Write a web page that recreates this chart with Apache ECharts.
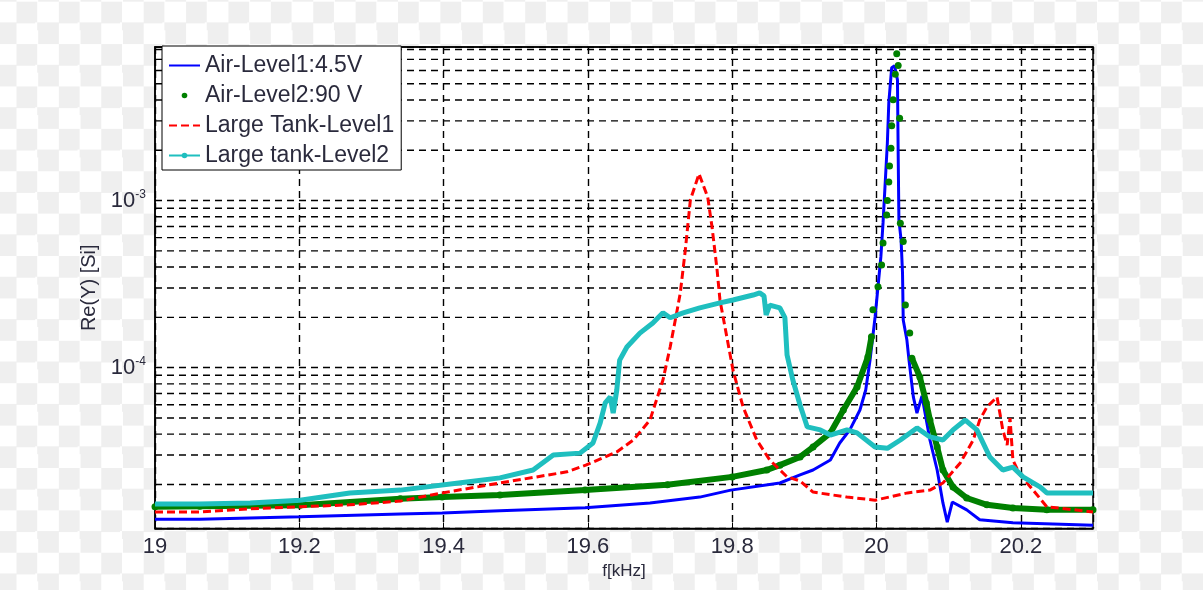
<!DOCTYPE html>
<html><head><meta charset="utf-8">
<script src="https://cdn.jsdelivr.net/npm/echarts@6/dist/echarts.min.js"></script>
<style>
html,body{margin:0;padding:0;}
body{width:1203px;height:590px;background:repeating-conic-gradient(#fff 0 25%, #efefef 0 50%) 16.5px 1.7px / 42.4px 42.4px;}
#c{width:1203px;height:590px;}
</style></head><body><div id="c"></div>
<script>
// ---- data (f in kHz, Re(Y) in S) ----
const xTicks = [19, 19.2, 19.4, 19.6, 19.8, 20, 20.2];
const yTickExps = [-4, -3];

const blueF = [19.000,19.062,19.201,19.340,19.398,19.478,19.596,19.686,19.755,19.798,19.866,19.894,19.912,19.936,19.949,19.963,19.977,19.985,19.991,19.998,20.006,20.009,20.015,20.017,20.021,20.025,20.029,20.030,20.031,20.034,20.036,20.037,20.042,20.045,20.051,20.056,20.063,20.074,20.084,20.092,20.098,20.105,20.125,20.143,20.189,20.300];
const blueV = [1.24e-5,1.24e-5,1.28e-5,1.33e-5,1.35e-5,1.39e-5,1.45e-5,1.55e-5,1.68e-5,1.85e-5,2.04e-5,2.28e-5,2.44e-5,2.80e-5,3.54e-5,4.24e-5,5.58e-5,7.35e-5,1.11e-4,2.01e-4,4.60e-4,7.35e-4,2.21e-3,3.85e-3,6.24e-3,6.41e-3,5.28e-3,1.88e-3,7.66e-4,5.82e-4,3.69e-4,1.93e-4,1.47e-4,1.11e-4,6.68e-5,5.35e-5,6.77e-5,3.69e-5,2.44e-5,1.55e-5,1.19e-5,1.57e-5,1.41e-5,1.23e-5,1.18e-5,1.14e-5];

const greenLowF = [19.000,19.062,19.201,19.340,19.398,19.478,19.596,19.710,19.800,19.848,19.866,19.894,19.912,19.936,19.954,19.973,19.988,19.993];
const greenLowV = [1.47e-5,1.48e-5,1.50e-5,1.64e-5,1.68e-5,1.73e-5,1.85e-5,1.99e-5,2.22e-5,2.44e-5,2.61e-5,2.92e-5,3.35e-5,4.07e-5,5.58e-5,7.66e-5,1.16e-4,1.53e-4];
const greenDotF = [19.995,20.002,20.007,20.009,20.014,20.015,20.017,20.018,20.020,20.021,20.023,20.026,20.028,20.030,20.032,20.033,20.037,20.040,20.046];
const greenDotV = [2.22e-4,3.05e-4,4.12e-4,5.58e-4,8.21e-4,1.0e-3,1.29e-3,1.61e-3,2.06e-3,2.80e-3,4.01e-3,5.71e-3,7.56e-3,6.43e-3,3.11e-3,7.32e-4,5.68e-4,2.37e-4,1.61e-4];
const greenHighF = [20.049,20.060,20.069,20.074,20.084,20.092,20.106,20.125,20.153,20.189,20.236,20.300];
const greenHighV = [1.14e-4,8.80e-5,6.15e-5,4.86e-5,3.35e-5,2.44e-5,1.93e-5,1.66e-5,1.51e-5,1.445e-5,1.41e-5,1.41e-5];

const redF = [19.000,19.062,19.132,19.201,19.270,19.340,19.398,19.478,19.571,19.597,19.640,19.663,19.686,19.704,19.714,19.723,19.728,19.735,19.742,19.754,19.766,19.772,19.779,19.783,19.801,19.815,19.834,19.852,19.876,19.894,19.912,19.959,19.998,20.043,20.074,20.092,20.116,20.134,20.143,20.153,20.167,20.175,20.181,20.185,20.189,20.199,20.217,20.236,20.300];
const redV = [1.37e-5,1.37e-5,1.43e-5,1.47e-5,1.51e-5,1.59e-5,1.78e-5,2.04e-5,2.38e-5,2.61e-5,3.13e-5,3.69e-5,4.86e-5,8.44e-5,1.33e-4,2.13e-4,2.80e-4,5.07e-4,1.01e-3,1.445e-3,1.05e-3,6.95e-4,3.85e-4,2.54e-4,9.69e-5,5.82e-5,3.69e-5,2.80e-5,2.22e-5,2.10e-5,1.80e-5,1.68e-5,1.61e-5,1.78e-5,1.85e-5,2.04e-5,2.69e-5,3.69e-5,4.86e-5,5.82e-5,6.68e-5,4.24e-5,3.44e-5,4.99e-5,2.80e-5,2.28e-5,1.85e-5,1.47e-5,1.37e-5];

const cyanF = [19.000,19.062,19.132,19.201,19.270,19.340,19.432,19.478,19.524,19.552,19.589,19.607,19.617,19.624,19.631,19.635,19.640,19.644,19.654,19.672,19.690,19.704,19.714,19.732,19.755,19.783,19.801,19.829,19.838,19.844,19.847,19.852,19.866,19.873,19.876,19.884,19.894,19.904,19.922,19.936,19.959,19.973,19.998,20.015,20.033,20.056,20.074,20.092,20.106,20.123,20.139,20.157,20.175,20.189,20.203,20.227,20.236,20.300];
const cyanV = [1.53e-5,1.53e-5,1.55e-5,1.61e-5,1.78e-5,1.85e-5,2.07e-5,2.19e-5,2.44e-5,3.00e-5,3.08e-5,3.54e-5,4.67e-5,6.15e-5,6.68e-5,5.35e-5,7.35e-5,1.11e-4,1.33e-4,1.61e-4,1.85e-4,2.13e-4,1.99e-4,2.13e-4,2.28e-4,2.44e-4,2.54e-4,2.72e-4,2.80e-4,2.69e-4,2.07e-4,2.37e-4,2.28e-4,1.99e-4,1.19e-4,8.44e-5,5.98e-5,4.42e-5,4.24e-5,3.95e-5,4.24e-5,4.07e-5,3.35e-5,3.29e-5,3.69e-5,4.36e-5,3.85e-5,3.69e-5,4.24e-5,4.86e-5,4.24e-5,2.92e-5,2.44e-5,2.54e-5,2.22e-5,1.93e-5,1.78e-5,1.78e-5];

const minorGrid = [2e-5,3e-5,4e-5,5e-5,6e-5,7e-5,8e-5,9e-5,2e-4,3e-4,4e-4,5e-4,6e-4,7e-4,8e-4,9e-4,2e-3,3e-3,4e-3,5e-3,6e-3,7e-3,8e-3];
const xRange = [19, 20.3];
const names = ['Air-Level1:4.5V','Air-Level2:90 V','Large Tank-Level1','Large tank-Level2'];

// ---- build ----
const pairs = (F,V) => F.map((f,i)=>[f,V[i]]);
const greenData = pairs(greenLowF, greenLowV);
greenDotF.forEach((f,i)=>{ greenData.push([f,'-']); greenData.push([f, greenDotV[i]]); });
greenData.push([greenHighF[0],'-']);
pairs(greenHighF, greenHighV).forEach(p=>greenData.push(p));

const FONT = '"Liberation Sans", Arial, sans-serif';
const TXT = '#2a2a3c';
const dash = [7,5];

const gridSeries = minorGrid.map(v=>({
  name:'_g'+v, type:'line', silent:true, z:1, symbol:'none', showSymbol:false,
  data:[[xRange[0],v],[xRange[1],v]],
  lineStyle:{color:'#000',type:dash,width:1.4}, emphasis:{disabled:true}, tooltip:{show:false}
}));

const chart = echarts.init(document.getElementById('c'));
chart.setOption({
  animation:false,
  backgroundColor:'transparent',
  textStyle:{fontFamily:FONT},
  grid:{left:155,right:110,top:47,bottom:61.5,show:true,backgroundColor:'#fff',borderColor:'#000',borderWidth:1.5},
  legend:{
    left:162, top:46, orient:'vertical', z:20,
    backgroundColor:'#fff', borderColor:'#000', borderWidth:1,
    padding:[8,7,3,6], itemGap:7, itemWidth:31, itemHeight:7,
    textStyle:{fontSize:23,color:TXT,lineHeight:22,fontFamily:FONT},
    data:[
      {name:names[0], itemStyle:{opacity:0}},
      {name:names[1], lineStyle:{opacity:0}},
      {name:names[2], itemStyle:{opacity:0}},
      {name:names[3]}
    ]
  },
  xAxis:[{
    type:'value', min:xRange[0], max:xRange[1], interval:0.2,
    name:'f[kHz]', nameLocation:'middle', nameGap:33,
    nameTextStyle:{fontSize:17,color:TXT},
    axisLine:{lineStyle:{color:'#000',width:1.5}},
    axisTick:{inside:true,length:6,lineStyle:{color:'#000'}},
    axisLabel:{fontSize:22,color:TXT,margin:7,showMaxLabel:false,
      formatter:v=> xTicks.some(t=>Math.abs(t-v)<1e-6) ? String(+v.toFixed(1)) : ''},
    splitLine:{show:true,lineStyle:{color:'#000',type:dash,width:1.4}}
  },{
    type:'value', position:'top', min:xRange[0], max:xRange[1], interval:0.2,
    axisLine:{lineStyle:{color:'#000',width:1.5}},
    axisTick:{inside:true,length:6,lineStyle:{color:'#000'}},
    axisLabel:{show:false}, splitLine:{show:false}
  }],
  yAxis:{
    type:'log', logBase:10, min:1.09e-5, max:8.3e-3,
    name:'Re(Y) [Si]', nameLocation:'middle', nameGap:50,
    nameTextStyle:{fontSize:20,color:TXT},
    axisLine:{show:true,lineStyle:{color:'#000',width:1.5}},
    axisTick:{inside:true,length:6,lineStyle:{color:'#000'}},
    axisLabel:{showMinLabel:false,showMaxLabel:false,margin:9,color:TXT,
      formatter:v=>{const e=Math.log10(v);const r=Math.round(e);
        return (Math.abs(e-r)<1e-6 && yTickExps.includes(r)) ? '{b|10}{s|'+r+'}' : '';},
      rich:{b:{fontSize:22,lineHeight:24,color:TXT,fontFamily:FONT},
            s:{fontSize:12,lineHeight:12,verticalAlign:'top',color:TXT,fontFamily:FONT}}},
    splitLine:{show:true,lineStyle:{color:'#000',type:dash,width:1.4}}
  },
  series: gridSeries.concat([
    {name:names[0],type:'line',data:pairs(blueF,blueV),showSymbol:false,symbol:'none',
     lineStyle:{color:'#0000ff',width:3},itemStyle:{color:'#0000ff'},z:10},
    {name:names[1],type:'line',data:greenData,showSymbol:true,showAllSymbol:true,symbol:'circle',symbolSize:7,
     connectNulls:false,lineStyle:{color:'#008000',width:6},itemStyle:{color:'#008000'},z:11},
    {name:names[2],type:'line',data:pairs(redF,redV),showSymbol:false,symbol:'none',
     lineStyle:{color:'#ff0000',width:3,type:[8,4]},itemStyle:{color:'#ff0000'},z:12},
    {name:names[3],type:'line',data:pairs(cyanF,cyanV),showSymbol:false,symbol:'circle',
     lineStyle:{color:'#1fbfbf',width:5},itemStyle:{color:'#1fbfbf'},z:13}
  ])
});
</script></body></html>
